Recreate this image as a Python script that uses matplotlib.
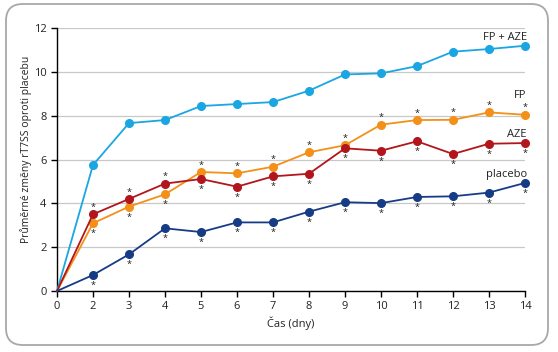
import matplotlib.pyplot as plt
from matplotlib.patches import FancyBboxPatch

days = ['0', '2', '3', '4', '5', '6', '7', '8', '9', '10', '11', '12', '13', '14']
fp_aze = [0, 5.75, 7.66, 7.80, 8.44, 8.53, 8.62, 9.14, 9.88, 9.93, 10.26, 10.92, 11.04, 11.19]
fp = [0, 3.09, 3.85, 4.41, 5.43, 5.37, 5.67, 6.33, 6.65, 7.59, 7.80, 7.81, 8.15, 8.04]
aze = [0, 3.50, 4.20, 4.90, 5.11, 4.76, 5.23, 5.35, 6.51, 6.40, 6.83, 6.25, 6.72, 6.75]
placebo = [0, 0.73, 1.67, 2.86, 2.69, 3.13, 3.13, 3.62, 4.05, 4.01, 4.29, 4.32, 4.49, 4.93]

plt.rcParams['font.family'] = ['Open Sans', 'DejaVu Sans']

fig = plt.figure(figsize=(5.58, 3.52), dpi=100)
frame = FancyBboxPatch((6 / 558, 7 / 352), 542 / 558, 341 / 352,
                       boxstyle='round,pad=0,rounding_size=0.03',
                       transform=fig.transFigure, facecolor='white',
                       edgecolor='#a8a8a8', linewidth=1.3, mutation_aspect=558 / 352,
                       zorder=-10)
fig.patches.append(frame)

ax = fig.add_axes([57 / 558, 61 / 352, 468 / 558, 263 / 352])
ax.patch.set_visible(False)
x = list(range(len(days)))

series = [
    (fp_aze, '#1aa6e2', 'FP + AZE'),
    (fp, '#f39019', 'FP'),
    (aze, '#b2161c', 'AZE'),
    (placebo, '#173c86', 'placebo'),
]
for vals, col, name in series:
    ax.plot(x, vals, color=col, lw=1.3, marker='o', markersize=5.5,
            markevery=slice(1, None), zorder=3, clip_on=False)

# significance asterisks
def star(i, v, above):
    off = 5 if above else -7.5
    ax.annotate('*', (i, v), xytext=(0, off), textcoords='offset points',
                ha='center', va='center', fontsize=6.5, color='#1a1a1a', zorder=4)

for i in range(1, len(days)):
    fp_up = fp[i] > aze[i]
    star(i, fp[i], fp_up)
    star(i, aze[i], not fp_up)
    star(i, placebo[i], False)

# series labels
lbl_y = [11.55, 8.9, 7.15, 5.3]
for (vals, col, name), yy in zip(series, lbl_y):
    ax.text(13.05, yy, name, ha='right', va='center', fontsize=8, color='#222222')

ax.set_xlim(0, 13)
ax.set_ylim(0, 12)
ax.set_xticks(x)
ax.set_xticklabels(days)
ax.set_yticks(range(0, 13, 2))
ax.grid(axis='y', color='#c8c8c8', lw=0.9)
ax.set_axisbelow(True)
for s in ['top', 'right']:
    ax.spines[s].set_visible(False)
for s in ['left', 'bottom']:
    ax.spines[s].set_linewidth(1.0)
ax.tick_params(labelsize=8, length=4, width=1.0, color='black', labelcolor='#222222')
ax.set_xlabel('Čas (dny)', fontsize=8, color='#222222', labelpad=3)
ax.set_ylabel('Průměrné změny rT7SS oproti placebu', fontsize=7.5, color='#222222', va='center')
ax.yaxis.set_label_coords(-0.066, 0.54)

fig.savefig('out.png', dpi=100)
